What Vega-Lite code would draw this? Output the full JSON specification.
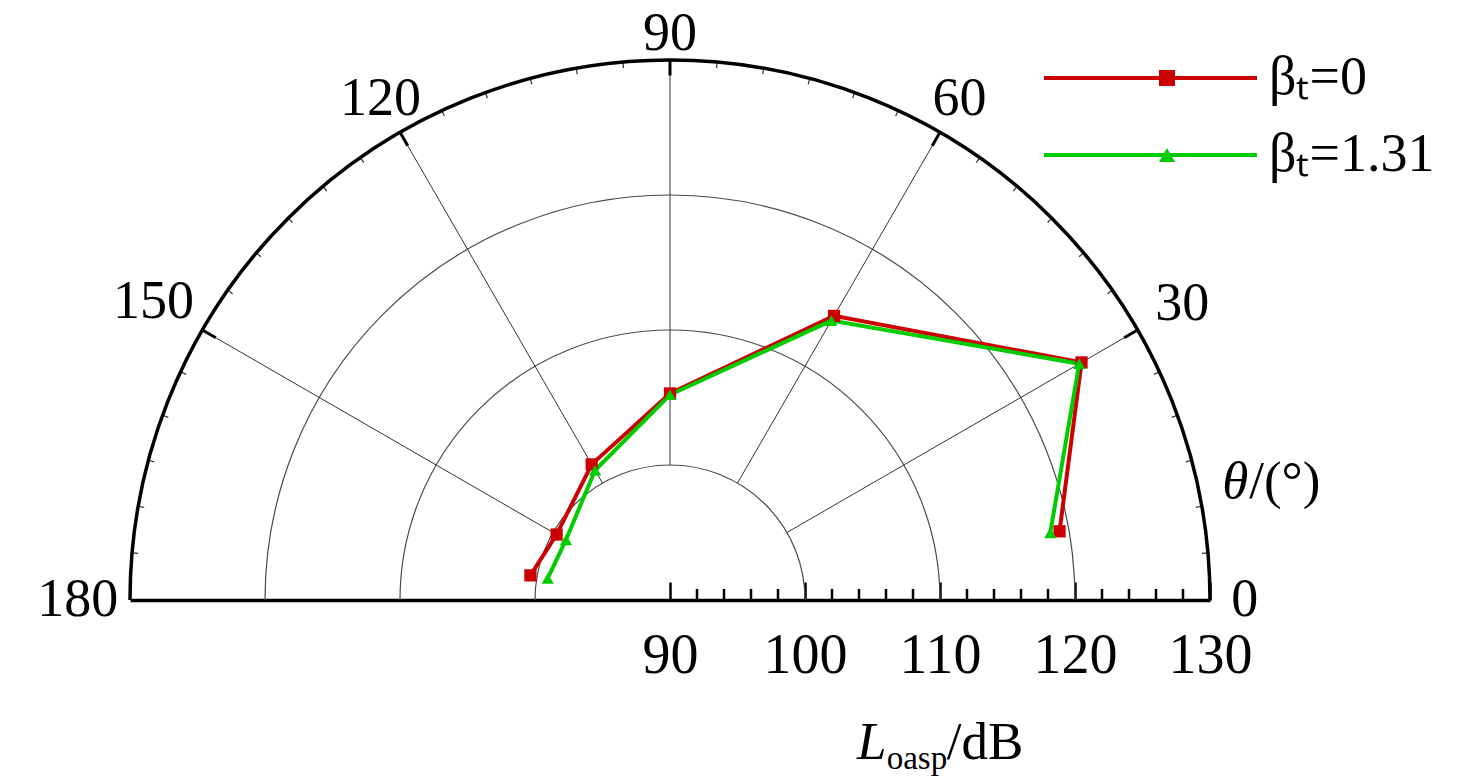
{
  "$schema": "https://vega.github.io/schema/vega-lite/v6.json",
  "width": 1080,
  "height": 540,
  "autosize": {"type": "none"},
  "padding": {"left": 130, "top": 60, "right": 266, "bottom": 176},
  "background": "white",
  "config": {"font": "Liberation Serif", "view": {"stroke": null}},
  "datasets": {
    "pts": [
      {"series": "βₜ=0", "theta": 10, "L": 119.3},
      {"series": "βₜ=0", "theta": 30, "L": 125.2},
      {"series": "βₜ=0", "theta": 60, "L": 114.3},
      {"series": "βₜ=0", "theta": 90, "L": 105.3},
      {"series": "βₜ=0", "theta": 120, "L": 101.6},
      {"series": "βₜ=0", "theta": 150, "L": 99.7},
      {"series": "βₜ=0", "theta": 170, "L": 100.5},
      {"series": "βₜ=1.31", "theta": 10, "L": 118.6},
      {"series": "βₜ=1.31", "theta": 30, "L": 125.0},
      {"series": "βₜ=1.31", "theta": 60, "L": 113.9},
      {"series": "βₜ=1.31", "theta": 90, "L": 105.2},
      {"series": "βₜ=1.31", "theta": 120, "L": 101.1},
      {"series": "βₜ=1.31", "theta": 150, "L": 98.9},
      {"series": "βₜ=1.31", "theta": 170, "L": 99.2}
    ],
    "rings": [{"r": 10}, {"r": 20}, {"r": 30}],
    "spokes": [{"a": 30}, {"a": 60}, {"a": 90}, {"a": 120}, {"a": 150}],
    "minor": [
      {"a": 5}, {"a": 10}, {"a": 15}, {"a": 20}, {"a": 25}, {"a": 35}, {"a": 40}, {"a": 45}, {"a": 50}, {"a": 55},
      {"a": 65}, {"a": 70}, {"a": 75}, {"a": 80}, {"a": 85}, {"a": 95}, {"a": 100}, {"a": 105}, {"a": 110}, {"a": 115},
      {"a": 125}, {"a": 130}, {"a": 135}, {"a": 140}, {"a": 145}, {"a": 155}, {"a": 160}, {"a": 165}, {"a": 170}, {"a": 175}
    ],
    "xminor": [
      {"v": 2}, {"v": 4}, {"v": 6}, {"v": 8}, {"v": 12}, {"v": 14}, {"v": 16}, {"v": 18},
      {"v": 22}, {"v": 24}, {"v": 26}, {"v": 28}, {"v": 32}, {"v": 34}, {"v": 36}, {"v": 38}
    ],
    "anglabels": [{"a": 0}, {"a": 30}, {"a": 60}, {"a": 90}, {"a": 120}, {"a": 150}, {"a": 180}]
  },
  "layer": [
    {
      "data": {"name": "rings"},
      "mark": {"type": "arc", "theta": -1.5707963, "theta2": 1.5707963, "filled": false, "stroke": "#4a4a4a", "strokeWidth": 1.2},
      "encoding": {
        "x": {"datum": 0, "type": "quantitative", "scale": {"domain": [-40, 40], "nice": false, "zero": false}},
        "y": {"datum": 0, "type": "quantitative", "scale": {"domain": [0, 40], "nice": false}, "axis": null},
        "radius": {"field": "r", "type": "quantitative", "scale": {"type": "linear", "domain": [0, 40], "range": [0, 540], "zero": true}},
        "radius2": {"field": "r"}
      }
    },
    {
      "data": {"name": "spokes"},
      "transform": [
        {"calculate": "10 * cos(datum.a * PI / 180)", "as": "x1"},
        {"calculate": "10 * sin(datum.a * PI / 180)", "as": "y1"},
        {"calculate": "40 * cos(datum.a * PI / 180)", "as": "x2"},
        {"calculate": "40 * sin(datum.a * PI / 180)", "as": "y2"}
      ],
      "mark": {"type": "rule", "color": "#333333", "strokeWidth": 1},
      "encoding": {
        "x": {"field": "x1", "type": "quantitative"},
        "y": {"field": "y1", "type": "quantitative", "axis": null},
        "x2": {"field": "x2"},
        "y2": {"field": "y2"}
      }
    },
    {
      "data": {"name": "minor"},
      "transform": [
        {"calculate": "40 * cos(datum.a * PI / 180)", "as": "x1"},
        {"calculate": "40 * sin(datum.a * PI / 180)", "as": "y1"},
        {"calculate": "39.55 * cos(datum.a * PI / 180)", "as": "x2"},
        {"calculate": "39.55 * sin(datum.a * PI / 180)", "as": "y2"}
      ],
      "mark": {"type": "rule", "color": "#333333", "strokeWidth": 1.2},
      "encoding": {
        "x": {"field": "x1", "type": "quantitative"},
        "y": {"field": "y1", "type": "quantitative", "axis": null},
        "x2": {"field": "x2"},
        "y2": {"field": "y2"}
      }
    },
    {
      "data": {"name": "spokes"},
      "transform": [
        {"calculate": "40 * cos(datum.a * PI / 180)", "as": "x1"},
        {"calculate": "40 * sin(datum.a * PI / 180)", "as": "y1"},
        {"calculate": "38.85 * cos(datum.a * PI / 180)", "as": "x2"},
        {"calculate": "38.85 * sin(datum.a * PI / 180)", "as": "y2"}
      ],
      "mark": {"type": "rule", "color": "black", "strokeWidth": 3},
      "encoding": {
        "x": {"field": "x1", "type": "quantitative"},
        "y": {"field": "y1", "type": "quantitative", "axis": null},
        "x2": {"field": "x2"},
        "y2": {"field": "y2"}
      }
    },
    {
      "data": {"name": "xminor"},
      "mark": {"type": "rule", "color": "black", "strokeWidth": 2.5},
      "encoding": {
        "x": {"field": "v", "type": "quantitative"},
        "y": {"datum": 0, "type": "quantitative", "axis": null},
        "y2": {"datum": 0.82}
      }
    },
    {
      "data": {"values": [{"r": 40}]},
      "mark": {"type": "arc", "theta": -1.5707963, "theta2": 1.5707963, "filled": false, "stroke": "black", "strokeWidth": 3.5},
      "encoding": {
        "x": {"datum": 0, "type": "quantitative"},
        "y": {"datum": 0, "type": "quantitative", "axis": null},
        "radius": {"field": "r", "type": "quantitative"},
        "radius2": {"field": "r"}
      }
    },
    {
      "data": {"name": "anglabels"},
      "transform": [
        {"calculate": "datum.a * PI / 180", "as": "ang"},
        {"calculate": "length(toString(datum.a)) * 12.75", "as": "hw"},
        {"calculate": "562 + min(datum.hw / max(abs(cos(datum.ang)), 0.0001), 18.5 / max(abs(sin(datum.ang)), 0.0001)) - 14 * pow(sin(datum.ang), 8) - (cos(datum.ang) < 0 ? 8 * pow(cos(datum.ang), 8) : 0)", "as": "lrpx"},
        {"calculate": "datum.lrpx / 13.5 * cos(datum.ang)", "as": "lx"},
        {"calculate": "datum.lrpx / 13.5 * sin(datum.ang)", "as": "ly"}
      ],
      "mark": {"type": "text", "align": "center", "baseline": "middle", "fontSize": 54, "font": "Liberation Serif", "color": "black"},
      "encoding": {
        "x": {"field": "lx", "type": "quantitative"},
        "y": {"field": "ly", "type": "quantitative", "axis": null},
        "text": {"field": "a", "type": "nominal"}
      }
    },
    {
      "data": {"name": "pts"},
      "transform": [
        {"calculate": "(datum.L - 90) * cos(datum.theta * PI / 180)", "as": "px"},
        {"calculate": "(datum.L - 90) * sin(datum.theta * PI / 180)", "as": "py"}
      ],
      "mark": {"type": "line", "strokeWidth": 4},
      "encoding": {
        "x": {
          "field": "px", "type": "quantitative",
          "scale": {"domain": [-40, 40], "nice": false, "zero": false},
          "axis": {
            "orient": "bottom",
            "values": [0, 10, 20, 30, 40],
            "title": null, "grid": false,
            "domainColor": "black", "domainWidth": 3.5,
            "tickColor": "black", "tickWidth": 2.5, "tickSize": -18,
            "labelExpr": "format(datum.value + 90, 'd')",
            "labelFont": "Liberation Serif", "labelFontSize": 56, "labelColor": "black",
            "labelPadding": 46, "labelOverlap": false, "labelFlush": false, "labelBound": false
          }
        },
        "y": {"field": "py", "type": "quantitative", "scale": {"domain": [0, 40], "nice": false}, "axis": null},
        "order": {"field": "theta", "type": "quantitative"},
        "stroke": {
          "field": "series", "type": "nominal",
          "scale": {"domain": ["βₜ=0", "βₜ=1.31"], "range": ["#cc0000", "#00cc00"]},
          "legend": {
            "orient": "none", "legendX": 912, "legendY": -7, "title": null,
            "symbolType": "M-1,0H1", "symbolSize": 45369, "symbolStrokeWidth": 4,
            "clipHeight": 50, "rowPadding": 23, "padding": 0,
            "labelFont": "Liberation Serif", "labelFontSize": 54, "labelColor": "black",
            "labelOffset": 10, "labelLimit": 400
          }
        }
      }
    },
    {
      "data": {"name": "pts"},
      "transform": [
        {"calculate": "(datum.L - 90) * cos(datum.theta * PI / 180)", "as": "px"},
        {"calculate": "(datum.L - 90) * sin(datum.theta * PI / 180)", "as": "py"}
      ],
      "mark": {"type": "point", "filled": true, "size": 150, "opacity": 1},
      "encoding": {
        "x": {"field": "px", "type": "quantitative"},
        "y": {"field": "py", "type": "quantitative", "axis": null},
        "fill": {
          "field": "series", "type": "nominal",
          "scale": {"range": ["#cc0000", "#00cc00"]},
          "legend": {
            "orient": "none", "legendX": 1010, "legendY": -7, "title": null,
            "symbolSize": 256, "clipHeight": 50, "rowPadding": 23, "padding": 0,
            "labelExpr": "''", "labelFontSize": 54
          }
        },
        "shape": {
          "field": "series", "type": "nominal",
          "scale": {"range": ["square", "triangle-up"]},
          "legend": {
            "orient": "none", "legendX": 1010, "legendY": -7, "title": null,
            "symbolSize": 256, "clipHeight": 50, "rowPadding": 23, "padding": 0,
            "labelExpr": "''", "labelFontSize": 54
          }
        }
      }
    },
    {
      "data": {"values": [{"t": "L"}]},
      "mark": {"type": "text", "align": "left", "baseline": "alphabetic", "fontSize": 53, "fontStyle": "italic", "font": "Liberation Serif", "color": "black"},
      "encoding": {
        "x": {"datum": 13.85, "type": "quantitative"},
        "y": {"datum": -11.75, "type": "quantitative", "axis": null},
        "text": {"field": "t"}
      }
    },
    {
      "data": {"values": [{"t": "oasp"}]},
      "mark": {"type": "text", "align": "left", "baseline": "alphabetic", "fontSize": 33, "font": "Liberation Serif", "color": "black"},
      "encoding": {
        "x": {"datum": 16.05, "type": "quantitative"},
        "y": {"datum": -12.5, "type": "quantitative", "axis": null},
        "text": {"field": "t"}
      }
    },
    {
      "data": {"values": [{"t": "/dB"}]},
      "mark": {"type": "text", "align": "left", "baseline": "alphabetic", "fontSize": 53, "font": "Liberation Serif", "color": "black"},
      "encoding": {
        "x": {"datum": 20.5, "type": "quantitative"},
        "y": {"datum": -11.75, "type": "quantitative", "axis": null},
        "text": {"field": "t"}
      }
    },
    {
      "data": {"values": [{"t": "θ"}]},
      "mark": {"type": "text", "align": "left", "baseline": "alphabetic", "fontSize": 53, "fontStyle": "italic", "font": "Liberation Serif", "color": "black"},
      "encoding": {
        "x": {"datum": 40.9, "type": "quantitative"},
        "y": {"datum": 7.56, "type": "quantitative", "axis": null},
        "text": {"field": "t"}
      }
    },
    {
      "data": {"values": [{"t": "/(°)"}]},
      "mark": {"type": "text", "align": "left", "baseline": "alphabetic", "fontSize": 53, "font": "Liberation Serif", "color": "black"},
      "encoding": {
        "x": {"datum": 42.9, "type": "quantitative"},
        "y": {"datum": 7.56, "type": "quantitative", "axis": null},
        "text": {"field": "t"}
      }
    }
  ]
}
